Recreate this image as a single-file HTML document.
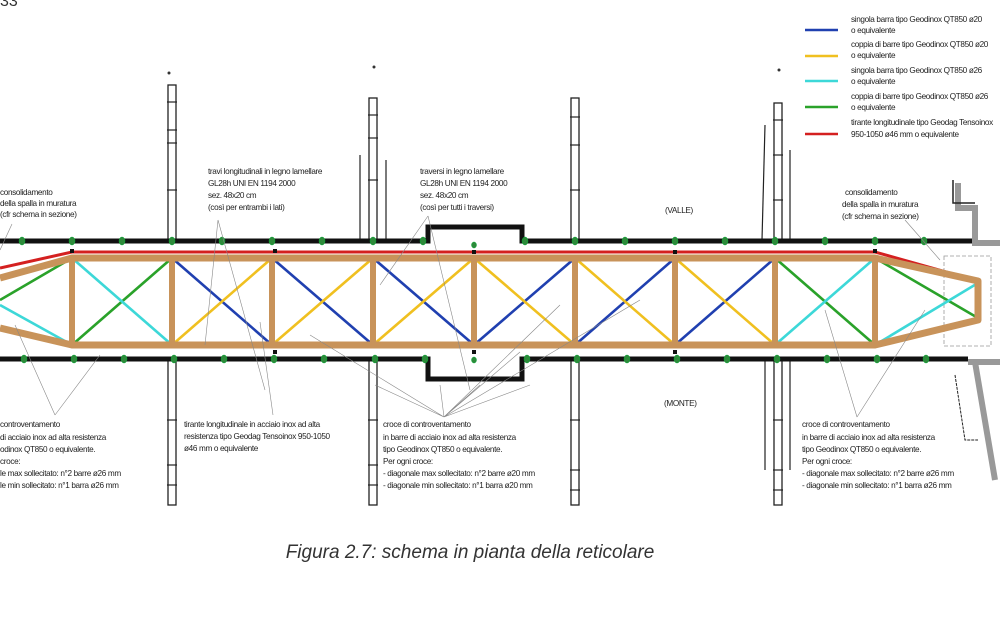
<!DOCTYPE html>
<html><head><meta charset="utf-8"><style>
html,body{margin:0;padding:0;background:#fff;width:1000px;height:620px;overflow:hidden}
svg{display:block}
.t{font-family:"Liberation Sans",sans-serif;font-size:8.2px;fill:#222;letter-spacing:-0.35px}
.l{stroke:#888;stroke-width:0.6;fill:none}
.p{fill:#fff;stroke:#222;stroke-width:1.3}
</style></head><body>
<svg width="1000" height="620" viewBox="0 0 1000 620">
<text x="0" y="6" style="font-family:'Liberation Sans',sans-serif;font-size:16px;fill:#333">33</text>
<!-- piers top -->
<g class="p">
<rect x="168" y="85" width="8" height="155"/><rect x="369" y="98" width="8" height="142"/>
<rect x="571" y="98" width="8" height="142"/><rect x="774" y="103" width="8" height="137"/>
<rect x="168" y="360" width="8" height="145"/><rect x="369" y="360" width="8" height="145"/>
<rect x="571" y="360" width="8" height="145"/><rect x="774" y="360" width="8" height="145"/>
</g>
<g stroke="#222" stroke-width="1.2">
<line x1="167" y1="102" x2="177" y2="102"/><line x1="167" y1="130" x2="177" y2="130"/><line x1="167" y1="143" x2="177" y2="143"/><line x1="167" y1="190" x2="177" y2="190"/>
<line x1="368" y1="115" x2="378" y2="115"/><line x1="368" y1="138" x2="378" y2="138"/><line x1="368" y1="180" x2="378" y2="180"/>
<line x1="570" y1="117" x2="580" y2="117"/><line x1="570" y1="145" x2="580" y2="145"/><line x1="570" y1="190" x2="580" y2="190"/>
<line x1="773" y1="120" x2="783" y2="120"/><line x1="773" y1="155" x2="783" y2="155"/><line x1="773" y1="200" x2="783" y2="200"/>
<line x1="167" y1="420" x2="177" y2="420"/><line x1="167" y1="465" x2="177" y2="465"/><line x1="167" y1="485" x2="177" y2="485"/>
<line x1="368" y1="420" x2="378" y2="420"/><line x1="368" y1="465" x2="378" y2="465"/><line x1="368" y1="485" x2="378" y2="485"/>
<line x1="570" y1="420" x2="580" y2="420"/><line x1="570" y1="470" x2="580" y2="470"/><line x1="570" y1="490" x2="580" y2="490"/>
<line x1="773" y1="420" x2="783" y2="420"/><line x1="773" y1="470" x2="783" y2="470"/><line x1="773" y1="490" x2="783" y2="490"/>
<line x1="360" y1="155" x2="360" y2="240"/><line x1="386" y1="160" x2="386" y2="240"/>
<line x1="765" y1="125" x2="762" y2="240"/><line x1="790" y1="150" x2="790" y2="240"/>
<line x1="765" y1="360" x2="765" y2="470"/><line x1="790" y1="360" x2="790" y2="470"/>
</g>
<circle cx="169" cy="73" r="1.5" fill="#333"/><circle cx="374" cy="67" r="1.5" fill="#333"/><circle cx="779" cy="70" r="1.5" fill="#333"/>
<!-- walls -->
<path d="M0 241 H428 V227 H522 V241 H975" stroke="#111" stroke-width="5" fill="none"/>
<path d="M0 359 H428 V379 H522 V359 H968" stroke="#111" stroke-width="5" fill="none"/>
<!-- abutment right -->
<path d="M958 183 V208 H975 V243 H1000" stroke="#999" stroke-width="6" fill="none"/>
<path d="M968 362 H1000 M975 362 L995 480" stroke="#999" stroke-width="6" fill="none"/>
<path d="M953 180 V203 H975" stroke="#222" stroke-width="1.5" fill="none"/>
<path d="M955 375 L965 440 H978" stroke="#222" stroke-width="1" stroke-dasharray="3,1" fill="none"/>
<rect x="944" y="256" width="47" height="90" fill="none" stroke="#999" stroke-width="0.8" stroke-dasharray="4,2"/>
<!-- green dots -->
<g fill="#2d8a3a" stroke="#0a3" stroke-width="0.5">
<g id="d"><ellipse cx="22" cy="241" rx="3" ry="4"/><ellipse cx="72" cy="241" rx="3" ry="4"/><ellipse cx="122" cy="241" rx="3" ry="4"/><ellipse cx="172" cy="241" rx="3" ry="4"/><ellipse cx="222" cy="241" rx="3" ry="4"/><ellipse cx="272" cy="241" rx="3" ry="4"/><ellipse cx="322" cy="241" rx="3" ry="4"/><ellipse cx="373" cy="241" rx="3" ry="4"/><ellipse cx="423" cy="241" rx="3" ry="4"/><ellipse cx="525" cy="241" rx="3" ry="4"/><ellipse cx="575" cy="241" rx="3" ry="4"/><ellipse cx="625" cy="241" rx="3" ry="4"/><ellipse cx="675" cy="241" rx="3" ry="4"/><ellipse cx="725" cy="241" rx="3" ry="4"/><ellipse cx="775" cy="241" rx="3" ry="4"/><ellipse cx="825" cy="241" rx="3" ry="4"/><ellipse cx="875" cy="241" rx="3" ry="4"/><ellipse cx="924" cy="241" rx="3" ry="4"/></g>
<use href="#d" transform="translate(2,118)"/>
<ellipse cx="474" cy="245" rx="2.5" ry="3"/><ellipse cx="474" cy="360" rx="2.5" ry="3"/>
</g>
<!-- red tie -->
<path d="M0 268 L72 252 H875 L978 281" stroke="#d42020" stroke-width="3" fill="none"/>
<!-- diagonals -->
<g stroke-width="2.6" fill="none">
<path d="M0 300 L72 258 M72 345 L172 258 M775 258 L875 345 M875 258 L978 318" stroke="#2aa22a"/>
<path d="M0 305 L72 345 M72 258 L172 345 M775 345 L875 258 M875 345 L978 283" stroke="#3dd8d8"/>
<path d="M172 258 L272 345 M272 258 L373 345 M373 258 L474 345 M474 345 L575 258 M575 345 L675 258 M675 345 L775 258" stroke="#2040b0"/>
<path d="M172 345 L272 258 M272 345 L373 258 M373 345 L474 258 M474 258 L575 345 M575 258 L675 345 M675 258 L775 345" stroke="#f0c020"/>
</g>
<!-- timber chords -->
<g stroke="#c8935a" stroke-width="7" fill="none" stroke-linejoin="round">
<path d="M0 278 L72 258 H875 L978 281 V320 L875 345 H72 L0 328"/>
<path d="M72 258V345M172 258V345M272 258V345M373 258V345M474 258V345M575 258V345M675 258V345M775 258V345M875 258V345" stroke-width="6"/>
</g>
<g fill="#111"><rect x="70" y="249" width="4" height="4"/><rect x="273" y="249" width="4" height="4"/><rect x="472" y="250" width="4" height="4"/><rect x="673" y="250" width="4" height="4"/><rect x="873" y="249" width="4" height="4"/>
<rect x="273" y="350" width="4" height="4"/><rect x="472" y="350" width="4" height="4"/><rect x="673" y="350" width="4" height="4"/></g>
<!-- leader lines -->
<g class="l">
<path d="M12 224 L0 250"/><path d="M218 220 L205 345 M218 220 L265 390"/>
<path d="M428 216 L380 285 M428 216 L470 390"/>
<path d="M905 220 L940 260"/>
<path d="M55 415 L15 325 M55 415 L100 355"/>
<path d="M273 415 L260 322"/>
<path d="M444 417 L375 385 M444 417 L440 385 M444 417 L480 385 M444 417 L530 385 M444 417 L310 335 M444 417 L520 352 M444 417 L560 305 M444 417 L640 300"/>
<path d="M857 417 L825 310 M857 417 L925 310"/>
</g>
<!-- labels -->
<g class="t">
<text x="0" y="195">consolidamento</text><text x="0" y="206">della spalla in muratura</text><text x="0" y="217">(cfr schema in sezione)</text>
<text x="208" y="174">travi longitudinali in legno lamellare</text><text x="208" y="186">GL28h UNI EN 1194 2000</text><text x="208" y="198">sez. 48x20 cm</text><text x="208" y="210">(così per entrambi i lati)</text>
<text x="420" y="174">traversi in legno lamellare</text><text x="420" y="186">GL28h UNI EN 1194 2000</text><text x="420" y="198">sez. 48x20 cm</text><text x="420" y="210">(così per tutti i traversi)</text>
<text x="665" y="213">(VALLE)</text>
<text x="845" y="195">consolidamento</text><text x="842" y="207">della spalla in muratura</text><text x="842" y="219">(cfr schema in sezione)</text>
<text x="851" y="22">singola barra tipo Geodinox QT850 ø20</text><text x="851" y="33">o equivalente</text>
<text x="851" y="47">coppia di barre tipo Geodinox QT850 ø20</text><text x="851" y="58">o equivalente</text>
<text x="851" y="73">singola barra tipo Geodinox QT850 ø26</text><text x="851" y="84">o equivalente</text>
<text x="851" y="99">coppia di barre tipo Geodinox QT850 ø26</text><text x="851" y="110">o equivalente</text>
<text x="851" y="125">tirante longitudinale tipo Geodag Tensoinox</text><text x="851" y="137">950-1050 ø46 mm o equivalente</text>
<text x="0" y="427">controventamento</text><text x="0" y="440">di acciaio inox ad alta resistenza</text><text x="0" y="452">odinox QT850 o equivalente.</text><text x="0" y="464">croce:</text><text x="0" y="476">le max sollecitato: n°2 barre ø26 mm</text><text x="0" y="488">le min sollecitato: n°1 barra ø26 mm</text>
<text x="184" y="427">tirante longitudinale in acciaio inox ad alta</text><text x="184" y="439">resistenza tipo Geodag Tensoinox 950-1050</text><text x="184" y="451">ø46 mm o equivalente</text>
<text x="383" y="427">croce di controventamento</text><text x="383" y="440">in barre di acciaio inox ad alta resistenza</text><text x="383" y="452">tipo Geodinox QT850 o equivalente.</text><text x="383" y="464">Per ogni croce:</text><text x="383" y="476">- diagonale max sollecitato: n°2 barre ø20 mm</text><text x="383" y="488">- diagonale min sollecitato: n°1 barra ø20 mm</text>
<text x="664" y="406">(MONTE)</text>
<text x="802" y="427">croce di controventamento</text><text x="802" y="440">in barre di acciaio inox ad alta resistenza</text><text x="802" y="452">tipo Geodinox QT850 o equivalente.</text><text x="802" y="464">Per ogni croce:</text><text x="802" y="476">- diagonale max sollecitato: n°2 barre ø26 mm</text><text x="802" y="488">- diagonale min sollecitato: n°1 barra ø26 mm</text>
</g>
<!-- legend lines -->
<g stroke-width="2.5">
<line x1="805" y1="30" x2="838" y2="30" stroke="#2040b0"/><line x1="805" y1="56" x2="838" y2="56" stroke="#f0c020"/>
<line x1="805" y1="81" x2="838" y2="81" stroke="#3dd8d8"/><line x1="805" y1="107" x2="838" y2="107" stroke="#2aa22a"/>
<line x1="805" y1="134" x2="838" y2="134" stroke="#d42020"/>
</g>
<text x="470" y="558" text-anchor="middle" style="font-family:'Liberation Sans',sans-serif;font-size:19px;font-style:italic;fill:#333">Figura 2.7: schema in pianta della reticolare</text>
</svg>
</body></html>
